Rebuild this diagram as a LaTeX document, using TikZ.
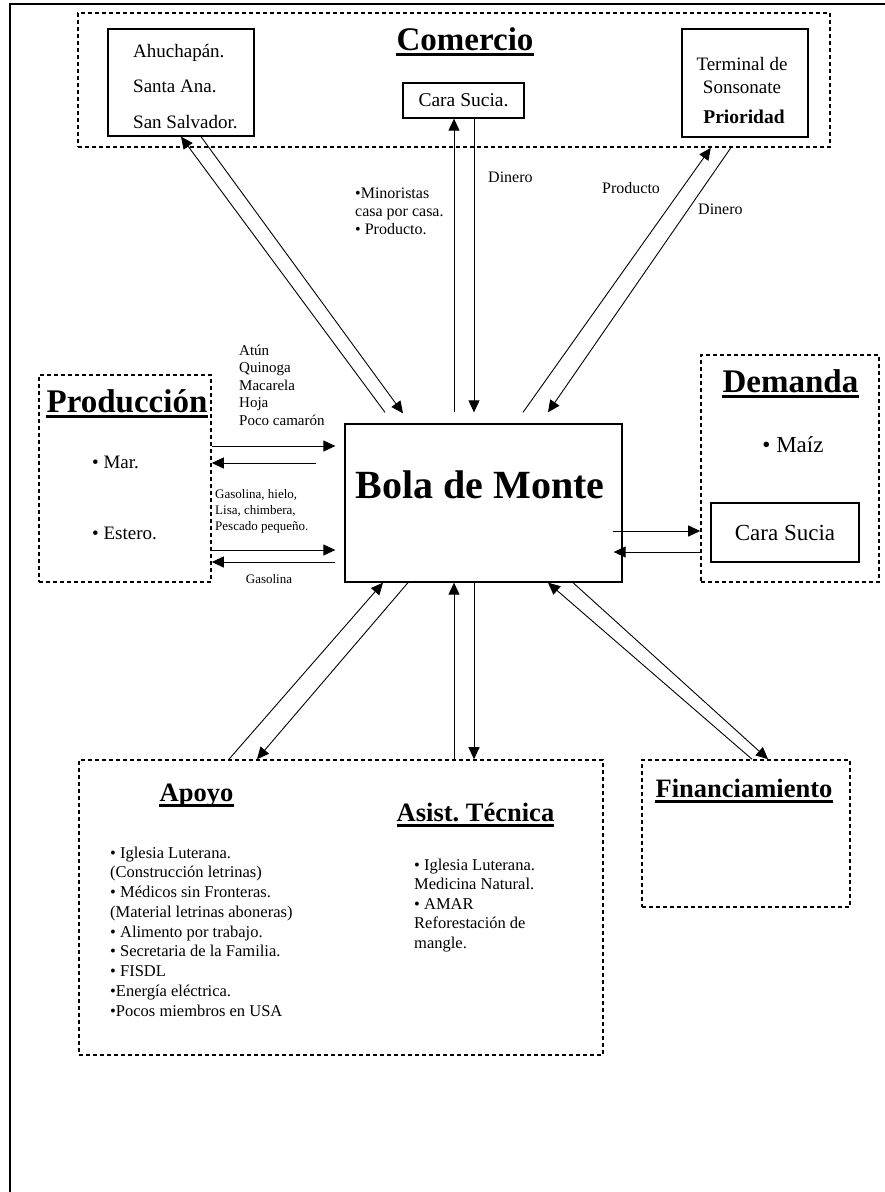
\documentclass[tikz,border=0pt]{standalone}
\usepackage{fontspec}
\setmainfont{Liberation Serif}
\usetikzlibrary{arrows.meta}
\frenchspacing

\tikzset{
  caja/.style={draw, line width=1.3pt, inner sep=0pt},
  zona/.style={draw, line width=1.6pt, dash pattern=on 4pt off 3pt, inner sep=0pt},
  flecha/.style={-{Triangle[length=12pt,width=11pt]}, line width=0.9pt},
  titulo/.style={anchor=base, inner sep=0pt, font=\bfseries\fontsize{#1}{#1}\selectfont},
  texto/.style={anchor=base west, inner sep=0pt, font=\fontsize{#1}{#1}\selectfont},
  raya/.style={line width=3pt}
}

\begin{document}
\begin{tikzpicture}[x=1pt, y=-1pt]
  \useasboundingbox (0,0) rectangle (885,1192);
  \draw[line width=2pt] (10,1200) -- (10,4) -- (890,4);

  \node[zona, minimum width=752, minimum height=134] (com) at (454, 80) {};
  \node[caja, minimum width=146, minimum height=107] (ahu) at (181, 82.5) {};
  \node[caja, minimum width=121, minimum height=35, font=\fontsize{19.5}{19.5}\selectfont] (csu) at (463.5, 100.5) {Cara Sucia.};
  \node[caja, minimum width=126, minimum height=108] (ter) at (745, 83) {};
  \node[titulo=33] (comt) at (465, 50) {Comercio};
  \foreach \t [count=\i] in {Ahuchapán., Santa Ana., San Salvador.}
    \node[texto=19] (ahut\i) at (133, 57+35.5*\i-35.5) {\t};
  \node[texto=19, anchor=base] (ter1) at (742, 70) {Terminal de};
  \node[texto=19, anchor=base] (ter2) at (742, 93) {Sonsonate};
  \node[titulo=19.5] (ter3) at (744, 123) {Prioridad};

  \node[zona, minimum width=172, minimum height=207] (prod) at (125, 478.5) {};
  \node[titulo=33] (prodt) at (127, 412) {Producción};
  \node[texto=19] (mar) at (92, 468) {• Mar.};
  \node[texto=19] (est) at (92, 539) {• Estero.};

  \node[caja, minimum width=277, minimum height=158] (bola) at (483.5, 503) {};
  \node[titulo=40] (bolat) at (480, 498) {Bola de Monte};

  \node[zona, minimum width=178, minimum height=227] (dem) at (790, 468.5) {};
  \node[titulo=33] (demt) at (790.5, 392) {Demanda};
  \node[texto=23, anchor=base] (maiz) at (793, 452) {• Maíz};
  \node[caja, minimum width=148, minimum height=59, font=\fontsize{23}{23}\selectfont] (csd) at (785, 532.5) {Cara Sucia};

  \node[zona, minimum width=524, minimum height=295] (apo) at (341, 907.5) {};
  \node[titulo=26.5] (apot) at (196.5, 801) {Apoyo};
  \node[titulo=26.5] (asit) at (475.5, 821) {Asist. Técnica};
  \node[zona, minimum width=208, minimum height=147] (fin) at (746, 833.5) {};
  \node[titulo=26.5] (fint) at (744, 797) {Financiamiento};

  \foreach \n in {comt, prodt, demt, apot, asit, fint}
    \draw[raya] ([yshift=-4.5pt]\n.base west) -- ([yshift=-4.5pt]\n.base east);

  \foreach \t [count=\i] in {• Iglesia Luterana., (Construcción letrinas), • Médicos sin Fronteras., (Material letrinas aboneras), • Alimento por trabajo., • Secretaria de la Familia., • FISDL, •Energía eléctrica., •Pocos miembros en USA}
    \node[texto=16.5] (apol\i) at (110, 858+19.75*\i-19.75) {\t};
  \foreach \t [count=\i] in {• Iglesia Luterana., Medicina Natural., • AMAR, Reforestación de, mangle.}
    \node[texto=16.5] (asil\i) at (414, 870+19.5*\i-19.5) {\t};

  \draw[flecha] ([xshift=-98.5pt, yshift=11pt]bola.north) -- (ahu.south);
  \draw[flecha] ([xshift=20pt]ahu.south) -- ([xshift=-80.5pt, yshift=10pt]bola.north);
  \draw[flecha] ([xshift=-29.5pt, yshift=11pt]bola.north) -- ([xshift=-9.5pt]csu.south);
  \draw[flecha] ([xshift=10.5pt]csu.south) -- ([xshift=-9.5pt, yshift=11pt]bola.north);
  \draw[flecha] ([xshift=39.5pt, yshift=11pt]bola.north) -- ([xshift=-120pt]com.south east);
  \draw[flecha] ([xshift=-100pt]com.south east) -- ([xshift=64.5pt, yshift=11pt]bola.north);

  \foreach \t [count=\i] in {•Minoristas, casa por casa., • Producto.}
    \node[texto=16] (min\i) at (355, 198+18*\i-18) {\t};
  \node[texto=16] (din1) at (488, 182) {Dinero};
  \node[texto=16] (pro) at (602, 193) {Producto};
  \node[texto=16] (din2) at (698, 214) {Dinero};

  \draw[flecha] ([yshift=32.5pt]prod.east) -- ([xshift=-9pt, yshift=57pt]bola.west);
  \draw[flecha] ([xshift=-28pt, yshift=40pt]bola.west) -- ([yshift=15.5pt]prod.east);
  \draw[flecha] ([yshift=-71.5pt]prod.east) -- ([xshift=-9pt, yshift=-47pt]bola.west);
  \draw[flecha] ([xshift=-9pt, yshift=-59pt]bola.west) -- ([yshift=-83.5pt]prod.east);

  \foreach \t [count=\i] in {Atún, Quinoga, Macarela, Hoja, Poco camarón}
    \node[texto=15] (pez\i) at (239, 355+17.5*\i-17.5) {\t};
  \foreach \t [count=\i] in {{Gasolina, hielo,}, {Lisa, chimbera,}, {Pescado pequeño.}}
    \node[texto=13] (gas\i) at (215, 498+16*\i-16) {\t};
  \node[texto=13, anchor=base] (gas) at (269, 583) {Gasolina};

  \draw[flecha] ([xshift=-10pt, yshift=-28pt]bola.east) -- ([yshift=-62.5pt]dem.west);
  \draw[flecha] ([yshift=-83.5pt]dem.west) -- ([xshift=-9pt, yshift=-49pt]bola.east);

  \draw[flecha] ([xshift=-112pt]apo.north) -- ([xshift=-100.5pt]bola.south);
  \draw[flecha] ([xshift=-75.5pt]bola.south) -- ([xshift=-84pt]apo.north);
  \draw[flecha] ([xshift=113pt]apo.north) -- ([xshift=-29.5pt]bola.south);
  \draw[flecha] ([xshift=-9.5pt]bola.south) -- ([xshift=133pt]apo.north);
  \draw[flecha] ([xshift=6pt]fin.north) -- ([xshift=64.5pt]bola.south);
  \draw[flecha] ([xshift=89.5pt]bola.south) -- ([xshift=22pt]fin.north);
\end{tikzpicture}
\end{document}
